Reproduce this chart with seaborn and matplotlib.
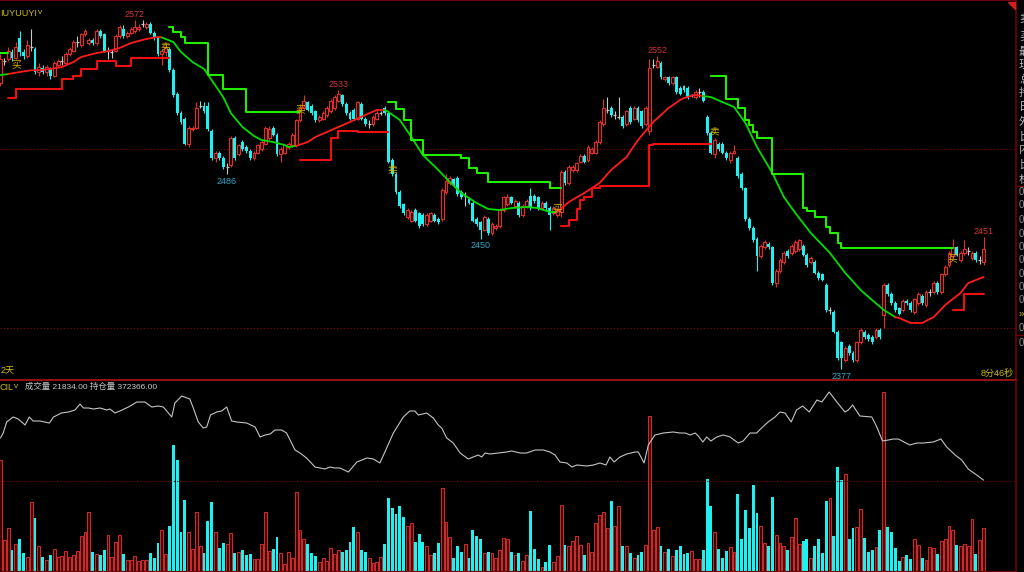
import numpy as np
import matplotlib
matplotlib.use('Agg')
import matplotlib.pyplot as plt
from matplotlib.patches import Polygon
from matplotlib.lines import Line2D
import seaborn as sns

# ---- candles (one per bar) ----
opens = [2537, 2549, 2550, 2554, 2551, 2562, 2554, 2552, 2557, 2556,
         2543, 2545, 2543, 2545, 2541, 2547, 2549, 2548, 2553, 2555,
         2560, 2558, 2564, 2559, 2561, 2559, 2566, 2564, 2555, 2554,
         2555, 2563, 2567, 2563, 2565, 2566, 2567, 2570, 2568, 2570,
         2565, 2562, 2553, 2554, 2556, 2544, 2531, 2520, 2517, 2503,
         2511, 2512, 2524, 2524, 2524, 2510, 2495, 2498, 2495, 2490,
         2491, 2506, 2497, 2504, 2501, 2499, 2495, 2498, 2500, 2503,
         2506, 2512, 2508, 2497, 2498, 2501, 2502, 2502, 2516, 2523,
         2526, 2524, 2521, 2516, 2517, 2519, 2521, 2523, 2527, 2530,
         2525, 2520, 2522, 2517, 2525, 2517, 2514, 2514, 2517, 2520,
         2523, 2520, 2494, 2486, 2476, 2469, 2462, 2460, 2466, 2464,
         2463, 2458, 2460, 2463, 2461, 2461, 2476, 2481, 2483, 2484,
         2476, 2474, 2472, 2470, 2461, 2459, 2455, 2461, 2453, 2456,
         2457, 2466, 2469, 2473, 2468, 2470, 2463, 2468, 2474, 2474,
         2473, 2467, 2470, 2467, 2464, 2463, 2465, 2487, 2481, 2488, 2488,
         2493, 2496, 2494, 2498, 2498, 2504, 2514, 2522, 2523, 2519,
         2518, 2518, 2514, 2523, 2517, 2523, 2521, 2514, 2510, 2547,
         2546, 2548, 2539, 2540, 2537, 2540, 2534, 2535, 2534, 2530,
         2529, 2532, 2532, 2518, 2509, 2497, 2503, 2503, 2498, 2494,
         2498, 2495, 2486, 2478, 2461, 2456, 2450, 2440, 2445, 2447,
         2445, 2425, 2432, 2437, 2443, 2442, 2443, 2444, 2446, 2441,
         2437, 2437, 2431, 2430, 2424, 2410, 2409, 2398, 2392, 2382,
         2390, 2386, 2382, 2392, 2398, 2396, 2395, 2395, 2399, 2407,
         2424, 2419, 2414, 2411, 2410, 2415, 2414, 2409, 2414, 2418,
         2413, 2420, 2420, 2425, 2420, 2430, 2435, 2440, 2445, 2438,
         2442, 2443, 2439, 2442, 2438, 2437]
highs = [2553, 2551, 2557, 2556, 2560, 2566, 2556, 2561, 2567, 2557,
         2548, 2547, 2547, 2546, 2549, 2550, 2552, 2554, 2557, 2561,
         2563, 2565, 2567, 2562, 2562, 2567, 2567, 2565, 2557, 2556,
         2564, 2569, 2569, 2566, 2568, 2572, 2570, 2572, 2571, 2571,
         2566, 2563, 2556, 2558, 2557, 2545, 2532, 2521, 2518, 2513,
         2513, 2526, 2527, 2526, 2526, 2511, 2499, 2499, 2496, 2492,
         2507, 2507, 2503, 2505, 2502, 2500, 2499, 2503, 2505, 2513,
         2513, 2513, 2509, 2501, 2503, 2504, 2509, 2517, 2525, 2530,
         2527, 2525, 2522, 2519, 2521, 2524, 2528, 2530, 2533, 2531,
         2526, 2521, 2523, 2527, 2526, 2518, 2516, 2519, 2521, 2521,
         2524, 2521, 2495, 2487, 2477, 2470, 2467, 2466, 2467, 2465,
         2464, 2464, 2465, 2464, 2462, 2478, 2486, 2485, 2484, 2485,
         2477, 2476, 2473, 2471, 2462, 2460, 2463, 2462, 2459, 2458,
         2467, 2474, 2475, 2474, 2472, 2471, 2469, 2472, 2478, 2475,
         2474, 2471, 2471, 2468, 2468, 2467, 2488, 2488, 2491, 2491, 2493,
         2497, 2497, 2502, 2501, 2505, 2516, 2528, 2529, 2524, 2521,
         2529, 2519, 2522, 2524, 2524, 2524, 2522, 2524, 2550, 2550,
         2552, 2549, 2541, 2541, 2541, 2541, 2535, 2536, 2535, 2531,
         2533, 2534, 2533, 2519, 2510, 2506, 2504, 2504, 2499, 2499,
         2502, 2496, 2487, 2479, 2462, 2457, 2451, 2447, 2449, 2448,
         2446, 2433, 2439, 2443, 2444, 2447, 2449, 2450, 2447, 2442,
         2440, 2438, 2432, 2431, 2425, 2412, 2410, 2399, 2393, 2390,
         2391, 2387, 2393, 2400, 2399, 2397, 2396, 2400, 2400, 2425,
         2425, 2420, 2415, 2412, 2416, 2416, 2415, 2417, 2420, 2419,
         2421, 2422, 2426, 2426, 2431, 2435, 2443, 2450, 2446, 2443,
         2449, 2445, 2443, 2443, 2440, 2451]
lows = [2535, 2547, 2549, 2549, 2550, 2552, 2550, 2551, 2555, 2542,
        2541, 2542, 2541, 2539, 2540, 2546, 2547, 2547, 2552, 2554,
        2557, 2557, 2563, 2558, 2558, 2558, 2562, 2554, 2550, 2551,
        2554, 2562, 2562, 2562, 2564, 2565, 2566, 2568, 2567, 2564,
        2561, 2552, 2547, 2552, 2543, 2529, 2519, 2514, 2502, 2501,
        2510, 2511, 2523, 2520, 2510, 2494, 2493, 2494, 2489, 2486,
        2490, 2494, 2496, 2499, 2498, 2494, 2494, 2497, 2499, 2502,
        2505, 2507, 2496, 2493, 2497, 2500, 2501, 2501, 2515, 2522,
        2521, 2519, 2515, 2515, 2516, 2518, 2520, 2522, 2526, 2524,
        2519, 2516, 2516, 2516, 2516, 2513, 2512, 2513, 2516, 2519,
        2519, 2492, 2485, 2475, 2467, 2463, 2461, 2459, 2459, 2456,
        2457, 2457, 2459, 2459, 2458, 2460, 2475, 2480, 2479, 2474,
        2472, 2468, 2469, 2459, 2457, 2450, 2454, 2452, 2452, 2455,
        2456, 2465, 2468, 2469, 2467, 2462, 2462, 2467, 2466, 2470,
        2466, 2466, 2466, 2455, 2463, 2462, 2462, 2480, 2480, 2487, 2487,
        2492, 2492, 2493, 2497, 2497, 2503, 2513, 2520, 2518, 2517,
        2517, 2512, 2513, 2514, 2516, 2515, 2512, 2513, 2508, 2545,
        2545, 2539, 2538, 2536, 2536, 2531, 2530, 2532, 2528, 2529,
        2528, 2529, 2526, 2508, 2497, 2495, 2499, 2497, 2494, 2492,
        2497, 2484, 2477, 2460, 2455, 2448, 2432, 2439, 2444, 2444,
        2424, 2423, 2431, 2436, 2439, 2441, 2442, 2443, 2440, 2434,
        2436, 2430, 2427, 2426, 2409, 2408, 2397, 2382, 2377, 2381,
        2385, 2381, 2381, 2391, 2394, 2393, 2391, 2394, 2394, 2400,
        2418, 2413, 2409, 2407, 2409, 2413, 2409, 2408, 2413, 2413,
        2412, 2418, 2419, 2419, 2419, 2429, 2434, 2439, 2440, 2437,
        2441, 2441, 2438, 2437, 2436, 2435]
closes = [2550, 2549, 2555, 2551, 2557, 2554, 2552, 2558, 2557, 2543,
          2546, 2543, 2546, 2541, 2548, 2549, 2549, 2553, 2556, 2560,
          2560, 2564, 2566, 2561, 2559, 2566, 2563, 2555, 2555, 2554,
          2563, 2568, 2563, 2565, 2567, 2568, 2568, 2570, 2570, 2565,
          2562, 2553, 2555, 2557, 2544, 2530, 2520, 2515, 2503, 2512,
          2512, 2523, 2524, 2521, 2511, 2495, 2498, 2495, 2490, 2490,
          2506, 2495, 2502, 2500, 2499, 2495, 2498, 2502, 2504, 2512,
          2511, 2508, 2497, 2500, 2502, 2503, 2508, 2516, 2523, 2527,
          2522, 2520, 2516, 2518, 2520, 2523, 2527, 2529, 2531, 2525,
          2520, 2517, 2517, 2526, 2517, 2514, 2514, 2518, 2520, 2520,
          2520, 2493, 2486, 2476, 2468, 2464, 2466, 2465, 2460, 2457,
          2458, 2463, 2464, 2460, 2459, 2477, 2482, 2484, 2480, 2475,
          2473, 2474, 2470, 2460, 2458, 2455, 2462, 2453, 2458, 2457,
          2466, 2473, 2473, 2470, 2471, 2463, 2468, 2471, 2467, 2471,
          2467, 2470, 2467, 2463, 2467, 2466, 2487, 2481, 2490, 2490, 2492,
          2496, 2493, 2501, 2500, 2504, 2515, 2523, 2522, 2519, 2519,
          2518, 2513, 2521, 2515, 2523, 2516, 2513, 2523, 2545, 2547,
          2549, 2540, 2540, 2537, 2540, 2532, 2531, 2533, 2529, 2530,
          2532, 2532, 2527, 2509, 2498, 2505, 2500, 2498, 2495, 2498,
          2499, 2485, 2478, 2461, 2456, 2449, 2440, 2446, 2448, 2445,
          2425, 2432, 2438, 2442, 2440, 2446, 2448, 2449, 2441, 2435,
          2439, 2431, 2428, 2427, 2410, 2410, 2398, 2383, 2383, 2389,
          2386, 2382, 2392, 2399, 2395, 2394, 2392, 2399, 2395, 2424,
          2419, 2414, 2410, 2408, 2415, 2414, 2410, 2416, 2419, 2414,
          2420, 2420, 2425, 2420, 2430, 2434, 2442, 2445, 2441, 2442,
          2444, 2443, 2442, 2438, 2438, 2444]

volumes = [55600, 15900, 22000, 10900, 13900, 16200, 9300, 7600, 34600, 26800, 13100,
           7600, 6000, 8600, 11300, 7300, 7900, 10300, 7300, 8400, 10400,
           17900, 20000, 29800, 9800, 8800, 8300, 10900, 18200, 7300, 14900,
           18400, 8900, 6000, 6000, 7900, 5500, 5800, 5800, 9600, 6900,
           14200, 20700, 8800, 22900, 63000, 55600, 19700, 35800, 20000, 11300,
           29700, 13100, 9300, 25300, 34600, 20000, 11800, 14200, 13700, 19200,
           9300, 9800, 10800, 8600, 8900, 6300, 6600, 13900, 29800, 10300,
           11400, 17200, 9600, 4100, 9800, 6800, 39600, 20900, 16600, 13900,
           9300, 7900, 5100, 6800, 5500, 12100, 8900, 10900,
           10100, 10900, 14700, 22500, 19700, 10900, 10100, 6800, 4600, 5000,
           7300, 13900, 36900, 31800, 28600, 32800, 27500, 22900, 24500, 14700,
           19000, 14700, 12800, 8600, 9300, 14600, 41600, 24700, 17400, 6800,
           13100, 10100, 13900, 6900, 20900, 17900, 16200, 9300, 9800, 9300,
           7100, 11100, 16700, 16400, 10100, 8600, 9400, 5300, 8600, 30500,
           11300, 6500, 2300, 5100, 13400, 5000, 7900, 33100, 13400, 12900,
           15200, 17900, 13400, 8400, 14200, 9800, 24200, 28200, 29800, 21700,
           35300, 22700, 32600, 13100, 13100, 9400, 6800, 8400, 10100, 13400,
           77700, 20700, 22400, 13100, 9800, 11400, 7900, 11100, 13100,
           8800, 9300, 10600, 6500, 6500, 10900, 46000, 32800, 20000, 11300,
           6800, 10400, 12300, 9800, 38800, 16600, 30800, 22000, 43100, 29200,
           22900, 14600, 13100, 37100, 18200, 14200, 12800, 11100, 17200, 26700,
           13900, 15200, 16200, 6800, 13100, 16600, 9300, 35300, 36900, 17900,
           52300, 45700, 48900, 16600, 21900, 22200, 31500, 16900, 9900, 10800,
           12300, 20700, 89300, 22500, 20000, 11800, 5500, 7600, 8600, 6600,
           16400, 13300, 6800, 6000, 12300, 12100, 8900, 15200, 16600, 22900,
           20700, 13400, 13100, 13900, 13100, 26300, 8800, 15700, 21834]

# ---- open interest (white line in the lower panel) ----
oi_idx = [0.0, 0.7, 1.6, 3.3, 4.6, 6.4, 7.5, 8.5, 10.3, 12.7,
          13.8, 15.9, 17.7, 19.4, 20.7, 21.6, 22.9, 24.2, 25.9, 27.7,
          28.5, 29.8, 31.1, 33.3, 35.5, 37.6, 39.4, 41.1, 42.4, 43.7,
          44.6, 45.4, 47.2, 49.3, 50.4, 51.5, 52.8, 53.7, 54.7, 56.3,
          57.6, 58.9, 60.2, 61.5, 64.1, 66.3, 67.6, 68.9, 70.2, 71.5,
          73.2, 74.5, 76.7, 78.0, 79.7, 81.9, 84.5, 85.8, 87.1, 88.4,
          90.6, 92.8, 95.4, 97.1, 98.8, 100.1, 102.3, 104.9, 106.6, 107.9,
          108.8, 111.0, 112.7, 114.0, 114.9, 116.2, 117.9, 119.7, 121.8, 123.1,
          124.4, 125.3, 126.2, 127.5, 129.6, 131.8, 133.1, 135.3, 137.0, 139.2,
          141.4, 143.1, 144.4, 145.7, 147.5, 148.8, 150.1, 152.7, 154.4, 156.1,
          157.7, 158.7, 159.8, 161.3, 163.1, 165.2, 166.1, 167.6, 168.7, 170.4,
          172.6, 175.2, 176.9,
          178.3, 179.6, 180.9, 181.7, 182.9, 183.9, 185.0, 186.5, 188.2, 190.0,
          192.1, 193.4, 195.2, 196.9, 198.2, 199.9, 201.7, 203.0, 204.3, 205.9,
          207.3, 208.9, 210.6, 212.6, 213.9, 215.8, 217.8, 219.9, 220.8, 221.9,
          223.8, 226.9, 228.2, 229.7, 231.2, 232.5, 233.8, 236.8, 238.6, 240.3,
          242.9, 244.9, 246.4, 248.6, 250.3, 252.0, 254.2, 256.0]
oi_val = [385000, 386500, 389800, 391300, 390700, 388900, 391300, 390100, 390100, 389500,
          391300, 392500, 392800, 393400, 395200, 394000, 394000, 393700, 394000, 393400,
          393700, 392500, 393100, 394300, 395800, 395800, 394300, 394600, 394300, 392500,
          391300, 395500, 397600, 396700, 393400, 389800, 388000, 388300, 391900, 392800,
          393100, 394300, 390100, 389800, 389500, 388300, 385300, 385900, 386200, 387400,
          387400, 386500, 381400, 380500, 379000, 376300, 375700, 376300, 376000, 376000,
          374800, 377800, 379000, 378700, 377500, 380800, 386500, 391300, 393100, 393100,
          391900, 392500, 391000, 388900, 388000, 385000, 383500, 380500, 378700, 379300,
          379900, 379300, 380500, 380200, 380500, 380800, 381100, 380500, 380500, 381400,
          381400, 380800, 379900, 377800, 377500, 376300, 376900, 376600, 376900, 377500,
          376900, 379300, 377800, 379300, 380200, 380800, 380800, 377500, 382900, 385900,
          386500, 386800, 386500,
          386500, 385900, 386500, 385600, 383800, 385300, 384100, 385300, 385900, 385300,
          383500, 384100, 386500, 386500, 388000, 389800, 391300, 392800, 392500, 389800,
          393400, 394600, 392800, 396400, 395800, 398800, 395800, 392800, 393400, 394900,
          391600, 391300, 388300, 384100, 384400, 384700, 384700, 382900, 383500, 383500,
          383800, 384700, 382300, 379900, 378400, 375700, 373900, 372366]

# ---- trend average (green in down legs, red in up legs) ----
ma_idx = [0, 2, 5, 8, 10, 13, 16, 19, 21, 25, 28, 31, 34, 38, 41, 42, 45, 47, 50, 53,
          55, 58, 60, 63, 66, 68, 71, 74, 75, 77, 80, 82, 85, 88, 91, 95, 98, 100, 101, 104,
          107, 110, 114, 117, 120, 124, 127, 130, 133, 137, 140, 143, 145, 148, 152, 156, 159, 163, 166, 170,
          174, 177, 178, 181, 183, 185, 191, 194, 197, 201, 204, 207, 211, 216, 220, 224, 227, 230, 233, 234,
          237, 240, 243, 246, 250, 252, 256]
ma_val = [2541.3, 2541.9, 2543, 2544, 2544, 2544.7, 2545.8, 2548.6, 2551.4, 2553.6,
          2554.7, 2556.4, 2559.2, 2561.5, 2562.6, 2562.3, 2559.8, 2554.2, 2548.6, 2544.7,
          2538.5, 2529, 2520, 2512.3, 2507.3, 2505, 2503.9, 2502.2, 2501.1, 2501.7,
          2503.9, 2506.7, 2509.5, 2512.3, 2515.1, 2519, 2521.8, 2521.8, 2520.7, 2516.2,
          2506.7, 2496.6, 2488.3, 2481.6, 2475.4, 2469.8, 2466.5, 2465.9, 2467, 2467.6,
          2467, 2464.8, 2464.8, 2470.4, 2475.4, 2481, 2488.3, 2495.5, 2505, 2515.1,
          2522.9, 2527.4, 2528.5, 2530.2, 2529.6, 2529, 2523.5, 2514.5, 2501.1, 2486.6,
          2473.2, 2464.2, 2453.1, 2441.9, 2430.7, 2421.2, 2415.6, 2410.1, 2406.1, 2405.6,
          2402.8, 2402.8, 2406.1, 2412.8, 2419.6, 2425.1, 2428.5]
ma_switch = [2, 42, 77, 100, 145, 183, 233]   # first run is green

# ---- stop lines ----
sup1_idx = [2, 4, 16, 19, 21, 25, 30, 34, 44]
sup1_lvl = [2528.5, 2533.5, 2539, 2541, 2544.7, 2549.2, 2546.4, 2550.8, 2550.8]
sup2_idx = [78, 86, 88, 93, 101]
sup2_lvl = [2493.9, 2506.1, 2510, 2509.5, 2509.5]
sup3_idx = [146, 148, 150, 151, 152, 154, 156, 169, 170, 185]
sup3_lvl = [2457, 2460.3, 2466.5, 2471.5, 2473.2, 2478.2, 2479.3, 2502.2, 2502.8, 2502.8]
sup4_idx = [248, 251, 256]
sup4_lvl = [2410, 2419, 2419]
res0_idx = [0, 2]
res0_lvl = [2553.6, 2553.6]
res1_idx = [44, 45, 47, 48, 54, 58, 64, 78]
res1_lvl = [2568, 2565.4, 2562.6, 2559.2, 2541.3, 2533.5, 2520.7, 2520.7]
res2_idx = [101, 103, 105, 107, 110, 120, 122, 124, 127, 143, 146]
res2_lvl = [2526.3, 2522.3, 2516.2, 2505, 2496.6, 2495, 2489.4, 2486.6, 2481.6, 2478.2, 2478.2]
res3_idx = [185, 189, 192, 194, 195, 196, 197, 201, 209, 210, 212, 215, 216, 218, 219, 248]
res3_lvl = [2540.8, 2527.9, 2522.9, 2516.2, 2513.4, 2509.5, 2506.1, 2486, 2467, 2465.4,
            2462, 2456.4, 2453.1, 2447.5, 2444.7, 2444.7]

signal_idx = [4, 43, 78, 102, 145, 186, 248]
signal_price = [2547.5, 2557.5, 2522.3, 2488.3, 2467, 2510, 2439]
signal_text = ['买', '卖', '买', '卖', '买', '卖', '买']

peak_idx = [35, 88, 171, 256]
trough_idx = [59, 125, 219]

RED = '#e0302a'
CYAN = '#1ff0f0'
GRAY = '#c8c8c8'
DARKRED = '#700000'
YELLOW = '#cdbb12'
CJK = ['Liberation Sans', 'Noto Sans CJK SC', 'DejaVu Sans']

sns.set_style('dark', rc={'axes.facecolor': 'black', 'figure.facecolor': 'black'})
plt.rcParams['font.family'] = CJK

W, H = 1024, 572
fig = plt.figure(figsize=(W / 100, H / 100), dpi=100)
ax = fig.add_axes([0, 192 / H, 1016 / W, 380 / H])
axv = fig.add_axes([0, 0, 1016 / W, 191 / H])
axo = axv.twinx()

o = np.array(opens, float)
h = np.array(highs, float)
l = np.array(lows, float)
c = np.array(closes, float)
vol = np.array(volumes, float)
idx = np.arange(len(o))
up = c > o
dn = c < o
flat = c == o
col = np.where(up, RED, np.where(dn, CYAN, GRAY))

# candles
ax.vlines(idx, l, h, colors=col, lw=0.8, zorder=1)
ax.bar(idx[up], (c - o)[up], bottom=o[up], width=0.75, facecolor='#140000',
       edgecolor=RED, lw=0.8, zorder=2)
ax.bar(idx[dn], (o - c)[dn], bottom=c[dn], width=0.75, color=CYAN, lw=0, zorder=2)
ax.hlines(c[flat], idx[flat] - 0.38, idx[flat] + 0.38, colors=GRAY, lw=0.9, zorder=2)

# trend average, coloured by leg
bounds = [ma_idx[0]] + ma_switch + [ma_idx[-1]]
for k in range(len(bounds) - 1):
    a, b = bounds[k], bounds[k + 1]
    xs = [x for x in ma_idx if a <= x <= b]
    ys = [y for x, y in zip(ma_idx, ma_val) if a <= x <= b]
    sns.lineplot(x=xs, y=ys, ax=ax, color='#00dd00' if k % 2 == 0 else '#ff1c1c',
                 lw=1.3, legend=False, estimator=None, sort=False, zorder=3)

for sx, sy, cc in [(sup1_idx, sup1_lvl, '#ee1010'), (sup2_idx, sup2_lvl, '#ee1010'),
                   (sup3_idx, sup3_lvl, '#ee1010'), (sup4_idx, sup4_lvl, '#ee1010'),
                   (res0_idx, res0_lvl, '#22ee00'), (res1_idx, res1_lvl, '#22ee00'),
                   (res2_idx, res2_lvl, '#22ee00'), (res3_idx, res3_lvl, '#22ee00')]:
    sns.lineplot(x=sx, y=sy, ax=ax, color=cc, lw=1.5, drawstyle='steps-post',
                 legend=False, estimator=None, sort=False, zorder=3)

for i, p, t in zip(signal_idx, signal_price, signal_text):
    ax.text(i, p, t, color='#d8b400', fontsize=7, ha='center', va='center',
            family=CJK, zorder=5)

for i in peak_idx:
    ax.annotate(f'{highs[i]}', (i, highs[i]), xytext=(0, 0.5), textcoords='offset points',
                ha='center', va='bottom', color='#d43434', fontsize=6.5)
for i in trough_idx:
    ax.annotate(f'{lows[i]}', (i, lows[i]), xytext=(0, -2), textcoords='offset points',
                ha='center', va='top', color='#2fa8c4', fontsize=6.5)

for lvl in (2500, 2400):
    ax.axhline(lvl, color='#8a0000', lw=0.8, ls=(0, (1, 2)), zorder=0)

ax.set_xlim(-0.13, 264.45)
ax.set_ylim(2370.95, 2583.24)

# volume + open interest
vup = c >= o
axv.bar(idx[vup], vol[vup], width=0.75, facecolor='#3a0000', edgecolor='#c82c2c', lw=0.8)
axv.bar(idx[~vup], vol[~vup], width=0.75, color=CYAN, lw=0)
axv.axhline(45200, color='#8a0000', lw=0.8, ls=(0, (1, 2)))
axv.set_xlim(-0.13, 264.45)
axv.set_ylim(0, 94930)
sns.lineplot(x=oi_idx, y=oi_val, ax=axo, color='#c4c4c4', lw=0.8,
             legend=False, estimator=None, sort=False)
axo.set_ylim(344800, 402100)

for a in (ax, axv, axo):
    a.set_xticks([])
    a.set_yticks([])
    a.set_xlabel('')
    a.set_ylabel('')
    a.grid(False)
    for s in a.spines.values():
        s.set_visible(False)
ax.spines['top'].set_visible(True)
ax.spines['top'].set_color(DARKRED)
ax.spines['top'].set_linewidth(1.5)
ax.spines['bottom'].set_visible(True)
ax.spines['bottom'].set_color('#b01414')
ax.spines['bottom'].set_linewidth(1.2)
for a in (ax, axv):
    a.spines['right'].set_visible(True)
    a.spines['right'].set_color(DARKRED)
    a.spines['right'].set_linewidth(1.2)
axv.spines['bottom'].set_visible(True)
axv.spines['bottom'].set_color(DARKRED)
axv.spines['bottom'].set_linewidth(1.5)

# header texts
def ftext(x, y, s, **kw):
    fig.text(x / W, 1 - y / H, s, va='center', **kw)

ftext(0, 13, 'IUYUUYI', color=YELLOW, fontsize=6.5)
ftext(38, 13, 'v', color=YELLOW, fontsize=6)
ftext(1, 371, '2天', color=YELLOW, fontsize=6.5, family=CJK)
ftext(1014, 373, '8分46秒', color=YELLOW, fontsize=6.5, family=CJK, ha='right')
ftext(0, 387, 'CIL', color=YELLOW, fontsize=6.5)
ftext(14, 387, 'v', color=YELLOW, fontsize=6)
ftext(25, 387, '成交量 21834.00', color='#c8c8c8', fontsize=6, family=CJK)
ftext(90, 387, '持仓量 372366.00', color='#c8c8c8', fontsize=6, family=CJK)

# clipped right-hand quote panel (only a sliver is visible, as in the source)
side_chars = ['卖', '买', '最', '现', '总', '持', '日', '外', '比', '内', '比', '杠']
side_y = [18, 37, 52, 65, 80, 93, 107, 122, 137, 150, 165, 180]
for s, y in zip(side_chars, side_y):
    ftext(1019, y, s, color='#b8b8b8', fontsize=8, family=CJK)
for y in [192, 205, 220, 234, 247, 260, 274, 287, 300, 328, 343]:
    ftext(1019, y, '0', color='#8c8c8c', fontsize=7)
ftext(1019, 314, '»', color=YELLOW, fontsize=7)
fig.add_artist(Line2D([1017 / W, 1024 / W], [1 - 186 / H, 1 - 186 / H], color=DARKRED, lw=1))
fig.add_artist(Line2D([1017 / W, 1024 / W], [1 - 335 / H, 1 - 335 / H], color=DARKRED, lw=1))
fig.add_artist(Polygon(np.array([[1008 / W, 1 - 2 / H], [1015 / W, 1 - 2 / H], [1015 / W, 1 - 9 / H]]),
                       closed=True, transform=fig.transFigure, color='#d02020'))

fig.savefig('out.png', dpi=100, facecolor='black')
